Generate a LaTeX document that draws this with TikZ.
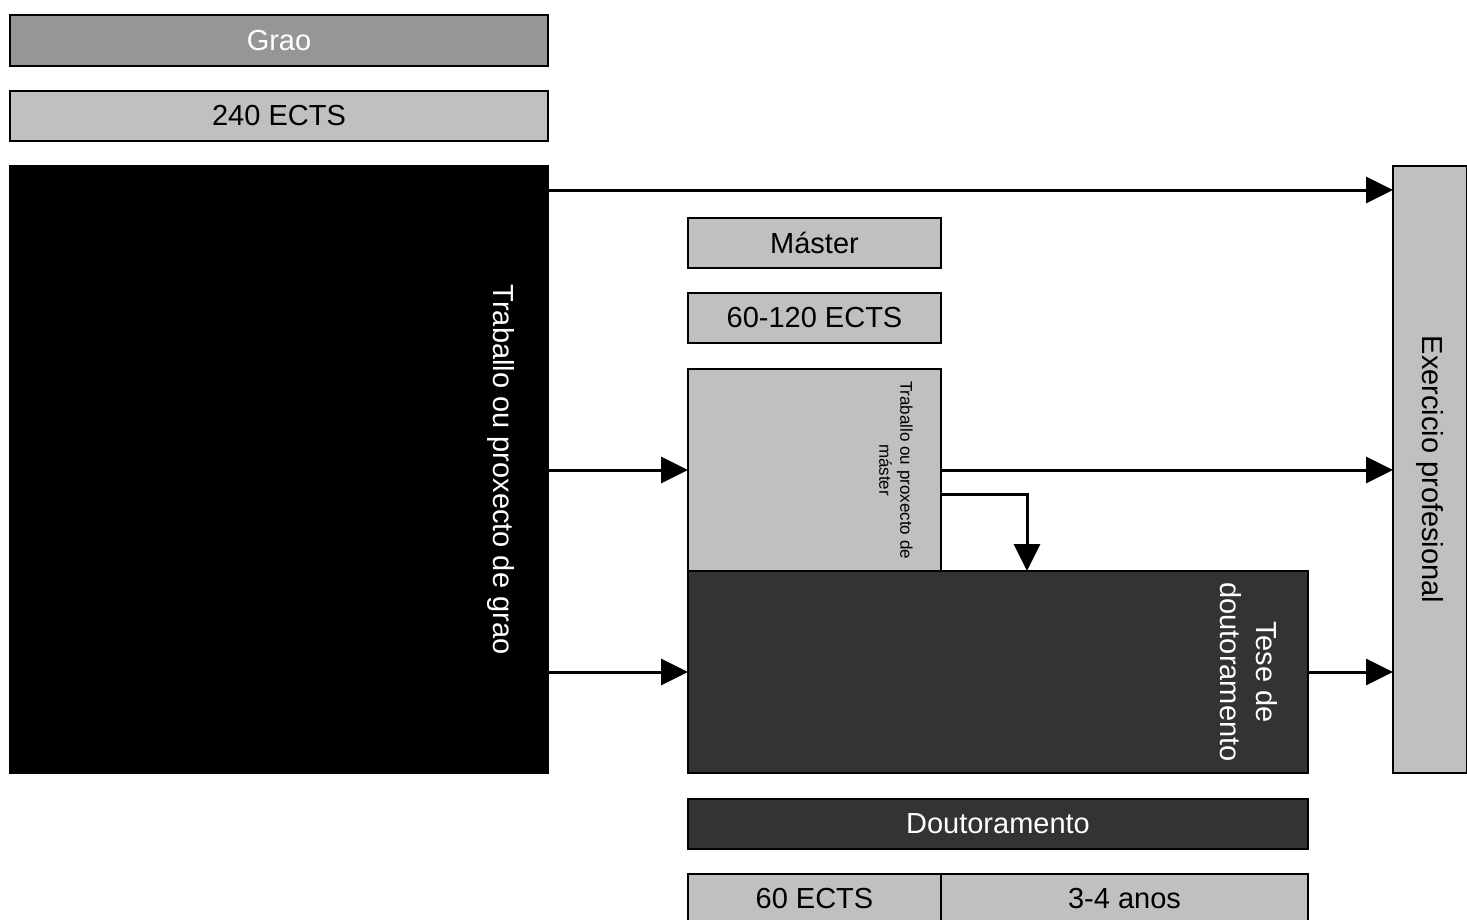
\documentclass[tikz,border=0pt]{standalone}
\usepackage{fontspec}
\setmainfont{Liberation Sans}
\usetikzlibrary{positioning}
\usetikzlibrary{arrows.meta}
\definecolor{midgray}{HTML}{969696}
\definecolor{lightgray2}{HTML}{C0C0C0}
\definecolor{darkgray2}{HTML}{333333}

\begin{document}
\begin{tikzpicture}[x=1pt, y=-1pt, node distance=25pt,
  box/.style={draw, line width=2pt, inner sep=0pt, outer sep=0pt,
    minimum height=50pt, font=\fontsize{29}{35}\selectfont},
  light/.style={box, fill=lightgray2},
  dark/.style={box, fill=darkgray2, text=white},
  vtext/.style={rotate=-90, anchor=north, inner sep=0pt, align=center,
    font=\fontsize{29}{36}\selectfont},
  arr/.style={line width=3pt, -{Triangle[length=27pt,width=26pt]}}]
  \useasboundingbox (0,0) rectangle (1467,919);
  % grao
  \node (grao) [box, fill=midgray, text=white, minimum width=538pt, minimum height=51pt] at (279,40.5) {Grao};
  \node (ects) [light, minimum width=538pt, below=of grao] {240 ECTS};
  \node (grado) [box, fill=black, minimum width=538pt, minimum height=607pt, below=of ects] {};
  \node (tgrao) [vtext, text=white] at ([xshift=-33pt]grado.east) {Traballo ou proxecto de grao};
  % exercicio
  \node (exer) [light, minimum width=74pt, minimum height=607pt, anchor=north west] at (1393,166) {};
  \node (texer) [vtext, anchor=center] at (exer.center) {Exercicio profesional};
  % master
  \node (master) [light, minimum width=253pt] at (814.5,243) {Máster};
  \node (mects) [light, minimum width=253pt, below=of master] {60-120 ECTS};
  \node (tfm) [light, minimum width=253pt, minimum height=202pt, below=26pt of mects] {};
  \node (ttfm) [vtext, font=\fontsize{17}{21}\selectfont] at ([xshift=-28pt]tfm.east) {Traballo ou proxecto de\\máster};
  % doutoramento
  \node (tese) [dark, minimum width=620pt, minimum height=202pt, below=0pt of tfm.south west, anchor=north west] {};
  \node (ttese) [vtext, text=white] at ([xshift=-30pt]tese.east) {Tese de\\doutoramento};
  \node (dout) [dark, minimum width=620pt, below=26pt of tese] {Doutoramento};
  \node (dects) [light, minimum width=253pt, below=of dout.south west, anchor=north west] {60 ECTS};
  \node (anos) [light, minimum width=367pt, right=0pt of dects] {3-4 anos};
  % frechas
  \coordinate (top) at (0,190);
  \coordinate (bend) at (1027,494);
  \draw[arr] (grado.east |- top) -- (exer.west |- top);
  \draw[arr] (tfm.west -| grado.east) -- (tfm.west);
  \draw[arr] (tese.west -| grado.east) -- (tese.west);
  \draw[arr] (tfm.east) -- (tfm.east -| exer.west);
  \draw[arr] (tfm.east |- bend) -| (tese.north -| bend);
  \draw[arr] (tese.east) -- (tese.east -| exer.west);
\end{tikzpicture}
\end{document}
